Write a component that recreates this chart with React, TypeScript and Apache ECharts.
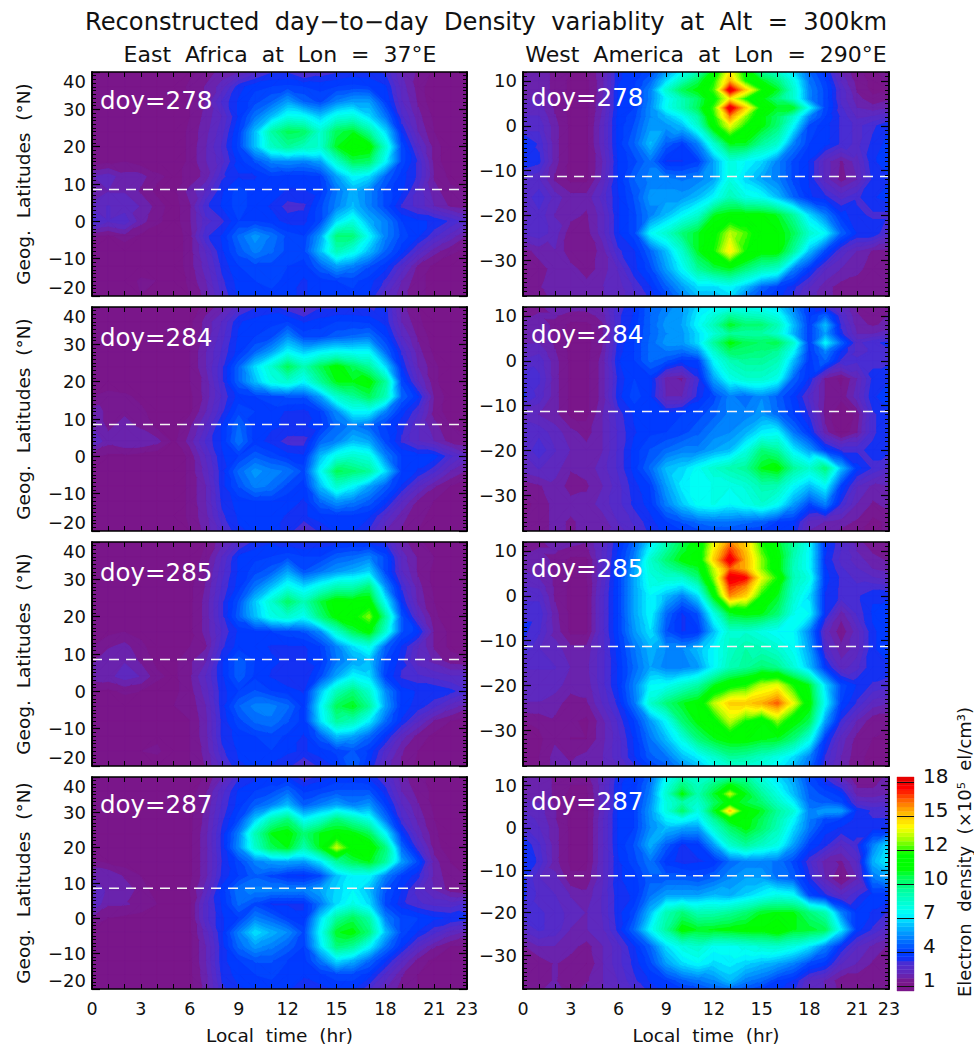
import React, { useEffect, useRef } from "react";
import * as echarts from "echarts";

const TITLE = "Reconstructed  day\u2212to\u2212day  Density  variablity  at  Alt  =  300km";
const SUB_EAST = "East  Africa  at  Lon  =  37\u00b0E";
const SUB_WEST = "West  America  at  Lon  =  290\u00b0E";
const DOYS = ["278", "284", "285", "287"];
const HOURS = [0,1,2,3,4,5,6,7,8,9,10,11,12,13,14,15,16,17,18,19,20,21,22,23];
const HOUR_LABELS = [0,3,6,9,12,15,18,21,23];
const LATS_E = [40,36,32,28,24,20,16,12,8,4,0,-4,-8,-12,-16,-20];
const LATS_W = [12,10,8,6,4,2,0,-4,-8,-12,-16,-20,-24,-28,-32,-36,-38];
const TICKS_E = [-20,-10,0,10,20,30,40];
const TICKS_W = [-30,-20,-10,0,10];
const DIP_E = 8.5;
const DIP_W = -11.3;
const BAR_TICKS = [1,3.83,6.67,9.5,12.33,15.17,18];

const E278 = [
[1,1,1,1,1,1,1.2,1.5,1.8,2,2.5,3,3,2.5,2.8,3,3.2,3.2,3,2,1.6,1.2,1,1],
[1,1,1.1,1.2,1.1,1,1.4,1.7,2.2,3.3,3.7,3.8,3.9,3.8,3.7,3.8,3.9,3.8,3.5,2.2,1.5,1,1,1],
[1,1,1,1,1,1,1.3,1.7,2.8,3.5,4,4.5,5.5,4.5,4,5,5.5,5.5,3.8,2.4,1.6,1,1,1],
[1,1,1,1,1,1,1.3,1.8,2.4,3.5,4.8,6,7.4,7.2,6.2,7.5,7.8,6.5,4.8,2.8,1.8,1.2,1,1],
[1,1,1,1,1,1,1.4,1.9,2.6,3.8,6,8.8,10,9.8,8,10,10.5,9,6.5,3.4,2,1.3,1,1],
[1,1,1,1,1,1,1.4,2,2.8,3.9,6,8.2,9,8.4,8,10.5,11.5,11.2,8,4,2.5,1.5,1,1],
[1.1,1.2,1.3,1.1,1,1,1.4,2,2.6,3.6,4.2,5,5.2,5,5.5,8,10,9.8,7,4,3,1.5,1,1],
[2,2.2,1.8,1.8,1.4,1.2,1.4,1.8,3,3.4,3.4,3.8,3.6,3.6,3.8,5.5,7,6.5,4.5,3.6,3,1.6,1.2,1.1],
[1.6,2,2,1.6,1.2,1.2,1.8,2.4,3.4,4,3.6,3.6,3.4,3.4,3.6,4.8,5.8,5,4,3.5,2.6,1.8,1.4,1.3],
[2.2,2.4,2.2,2,1.5,1.1,1.6,3,3.5,4,3.6,3.4,2.9,3,4,5,6,5,4,3,2.6,2,1.6,1.5],
[3,2.4,2.6,1.8,1.4,1.1,1.6,2.6,3,3.8,3.8,3.6,3.3,3.3,4,6.5,7.6,5.8,5,3.8,3.5,3.4,3,2.5],
[1.4,1.2,1.5,1.2,1,1,1.5,3,3.5,4.6,5.4,4.8,4,3.8,5.5,9.5,9.5,7,5,4,3.5,2.8,2.2,1.6],
[1,1,1,1,1,1,1.5,2.4,3.4,4.3,5,4.6,4,4,6,8.5,7.5,6,4.5,3.6,2.6,1.8,1.4,1.2],
[1,1,1,1,1,1,1.5,2.2,3.2,3.8,4,4,3.8,3.6,4.5,5.5,5,4.2,3.6,2.6,1.6,1.2,1,1],
[1,1,1,1.4,1.3,1,1.4,2,3,3.6,3.8,4,3.6,3.4,3.6,3.8,3.9,3.6,3,2,1.4,1.2,1,1],
[1,1,1,1.3,1.1,1,1.3,1.8,2.8,3.5,3.6,3.6,3.5,3.4,3.6,3.8,3.7,3.4,2.4,1.8,1.4,1.2,1,1],
];
const E284 = [
[1,1,1,1,1,1,1,1.5,1.8,2.6,3,3.2,2.8,2.4,3,3,3,3,3.2,1.8,1.3,1,1,1],
[1,1,1,1,1,1,1.2,1.8,2.4,3.4,3.6,3.7,3.8,3.4,3.6,3.8,3.8,3.7,3.3,2,1.4,1,1,1],
[1,1,1,1,1,1,1.2,1.8,2.6,3.5,3.8,4,5.2,4,4,4.4,4.6,4.8,3.8,2.4,1.6,1.1,1,1],
[1,1,1,1,1,1,1.3,2,2.8,3.6,4.5,5.5,7,6.2,6.8,7.2,7,7,4.6,3,1.8,1.2,1,1],
[1,1,1,1,1,1,1.3,2,3,4.5,6.5,8,10,8.5,10,11,10,9,6.5,3.4,2,1.4,1,1],
[1,1,1,1,1,1,1.3,1.8,3,4.5,6,7.5,8,7,9,10.6,10.6,11,9,4,2.4,1.4,1,1],
[1.3,1.5,1.4,1.2,1,1,1.2,1.8,2.8,3.6,3.8,4,4.2,4.2,5.5,8,9,10,8.5,4.5,3.5,1.6,1.1,1],
[1.8,1.6,1.6,1.4,1.1,1,1.2,2,3,4,3.8,3.6,3.4,3.3,3.8,5.2,7,7,5,3.6,2.8,1.5,1.1,1],
[2,1.6,1.8,1.6,1.2,1.1,1.6,2.4,3.5,4.6,3.6,3.5,3.4,3.4,3.6,4.6,5,4.5,3.8,3.2,2.4,1.8,1.3,1.2],
[2.4,1.8,2,2,1.8,1.2,1.8,2.8,3.5,4.8,3.6,3.3,2.9,2.9,4.5,5,6,5.6,4,3,2.4,2,1.5,1.4],
[1.4,1.2,1.2,1.1,1,1,1.4,2.4,3.4,3.8,4.4,4,3.6,3.5,6,7.5,8,7.6,5,3.8,3.6,3.6,2.8,2.2],
[1,1,1,1,1.3,1,1.4,2.2,3.3,4.6,5.4,5,4.8,4,7,10,9.6,9,6.5,3.8,3.4,2.8,2,1.6],
[1,1,1,1,1.1,1,1.4,2,3.3,4.2,5,4.8,4,3.6,6,8,7,5.6,4.4,3.4,2.4,1.7,1.3,1],
[1,1,1,1,1.2,1,1.4,2,3.2,3.6,3.8,3.8,3.6,3.4,4.6,5.4,5,4.4,3.6,2.4,1.6,1.3,1,1],
[1,1,1,1,1.3,1,1.4,1.9,3,3.5,3.6,3.6,3.4,3.4,3.6,3.7,3.7,3.5,2.6,1.8,1.4,1.2,1,1],
[1,1,1,1,1,1,1.3,1.8,2.6,3.4,3.5,3.5,3.4,2.4,3.2,3.5,3.5,3,2,1.6,1.3,1.1,1,1],
];
const E285 = [
[1,1,1,1,1,1,1.1,1.3,1.9,2.6,3.2,3.4,3.2,3,3.2,3.3,3.4,3.3,3,1.8,1.4,1.1,1,1],
[1,1,1,1,1,1,1.1,1.4,2.4,3.5,3.7,3.8,4,3.8,3.8,4.4,4.6,5,4,2.2,1.6,1.3,1,1],
[1,1,1,1,1,1,1.2,1.6,2.6,3.5,4,4.4,5.6,4.2,4.8,5.4,5.8,6.4,4,2.4,1.6,1.2,1,1],
[1,1,1,1,1,1,1.2,1.7,2.8,3.6,4.8,6,7.4,6.5,7.5,8.5,8.5,9.5,5.2,3,1.8,1.2,1,1],
[1,1,1,1,1,1,1.2,1.8,3,4.2,6.2,8,9.8,8.5,10.2,11.2,11,11.2,7,3.4,1.9,1.3,1,1],
[1,1,1,1,1,1,1.2,1.8,3,4.4,6,7.5,8,7.2,9.5,11,11.5,13,9,4.2,2.4,1.4,1,1],
[1.1,1.2,1.3,1.2,1,1,1.2,1.8,2.8,3.5,3.7,3.8,4,4.2,5.2,8,10,11,8,4.2,3.6,1.6,1.2,1],
[1.3,1.6,1.8,1.4,1.1,1.1,1.3,1.6,3,3.6,3.6,3.4,3.4,3.4,3.8,5,6.5,7.5,4.5,3.4,2.4,1.6,1.2,1.1],
[1.6,2,2,1.6,1.2,1.2,1.6,2,3.4,4.4,3.8,3.5,3.4,3.4,3.6,4.8,5.6,6,4,3.2,2.2,1.9,1.5,1.4],
[1.8,1.9,2.2,2,1.4,1.2,1.6,2.4,3.4,4.4,3.7,3.4,3.1,3.1,4,5.6,7,6.5,3.8,3,2.8,2.6,2.4,2.4],
[1.3,1.2,1.4,1.3,1.1,1.2,1.5,2.2,3.3,3.8,4.2,3.8,3.6,3.4,6,8.4,9.5,8,5.2,3.6,3.4,3.4,3.2,2.8],
[1,1,1,1,1,1.3,1.4,2,3.3,4.5,5,5,4.6,3.6,6.8,10,10.6,9,5.5,3.6,3.3,2.8,2.2,1.8],
[1,1,1,1,1,1.1,1.3,1.9,3.2,4,4.6,4.8,4.2,3.6,6.5,9,8.5,6.8,4.6,3.4,2.4,1.6,1.3,1.1],
[1,1,1,1,1.2,1,1.3,1.9,3.2,3.6,3.8,4,3.7,3.4,4.4,6,5.6,4.6,3.5,2.2,1.5,1.2,1,1],
[1,1,1,1.3,1.4,1,1.3,1.8,3,3.5,3.7,3.8,3.5,3.4,3.6,3.9,4.2,3.7,2.6,1.7,1.3,1.1,1,1],
[1,1,1,1,1,1,1.3,1.7,2.6,3.4,3.5,3.4,3.2,2.6,3.2,3.5,4.5,3.4,2.2,1.6,1.2,1.1,1,1],
];
const E287 = [
[1,1,1,1,1,1,1.1,1.4,2,3,3.3,3.5,3.4,2.8,3.2,3.5,3.5,3.3,2.8,1.8,1.4,1.2,1,1],
[1,1,1,1,1,1,1.1,1.6,2.6,3.5,3.8,4,4.6,3.7,3.9,4.2,4.2,4.2,3.2,2,1.5,1.2,1,1],
[1,1,1,1,1,1,1.2,1.7,2.8,3.6,4.4,5,6,4.4,5,5.6,5,5.4,3.8,2.4,1.7,1.2,1,1],
[1,1,1,1,1,1,1.2,1.8,3,4,6.2,8.5,9.5,7,8,9.5,8.6,7.5,4.8,2.8,1.9,1.3,1,1],
[1,1,1,1,1,1,1.2,1.9,3.2,5,8.5,10.6,11,9.6,10.6,11,10.8,10,7,3.6,2.2,1.4,1,1],
[1,1,1,1,1,1,1.2,1.9,3.2,5.2,8,10,10.6,8.6,10.6,13.6,11.4,11.4,9.5,4.6,2.8,1.5,1,1],
[1.4,1.2,1.1,1,1,1,1.2,1.9,3.1,4,5,5.4,5.6,5.4,6.6,9,10,10.6,9,5.5,4,1.8,1.3,1],
[2,2,1.6,1.3,1.1,1,1.2,1.9,3.2,3.8,4.4,4,3.5,3.4,4,6,7,7,5,3.8,3.2,1.9,1.4,1.3],
[2.4,1.9,1.9,1.5,1.1,1,1.3,2.2,3.6,4.8,5,5,5,5,5.6,6.4,7,6,4.2,3.4,2.6,2,1.5,1.4],
[2.4,1.7,1.7,1.6,1.3,1,1.2,2.6,3.5,4.6,4,3.4,3.4,3.4,4.8,6.5,7.5,6.5,4,3.2,2.8,2.6,2.5,2.8],
[1.6,1.3,1.2,1.1,1.3,1.1,1.2,2.6,3.4,3.8,5,4.5,3.8,3.5,6.4,9,10,8.8,5,4,3.8,3.5,3.4,3.2],
[1,1,1,1,1,1,1.2,2.2,3.4,5,6.6,5.8,5.2,4,7,10.5,10.8,9.5,6,4,3.4,2.8,2.2,1.9],
[1,1,1,1,1,1,1.2,2,3.3,4.6,5.4,5,4.4,3.8,6.5,9.5,9,7,4.8,3.5,2.4,1.7,1.3,1.2],
[1,1,1,1,1,1,1.2,2,3.3,3.8,4.2,4.2,3.8,3.6,4.8,6.5,5.8,4.6,3.5,2.4,1.5,1.2,1,1],
[1,1,1,1,1,1,1.2,1.9,3.2,3.6,3.8,3.9,3.6,3.5,3.7,4,4,3.6,2.6,1.7,1.3,1.2,1,1],
[1,1,1,1,1,1,1.2,1.8,3,3.4,3.5,3.6,3.5,3.2,3.3,3.5,3.5,2.8,2,1.5,1.3,1.1,1,1],
];
const W278 = [
[1.6,1.8,1.6,1.3,1.3,1.9,3.4,3.6,4,5.5,7,8.5,11,14.5,11.5,9,8,6.5,4.5,3.5,2,1.4,1.2,1.6],
[1.7,1.8,1.6,1.2,1.2,1.9,3.4,3.7,4.5,6.5,8.5,10,12,15.5,12,10.6,9.5,7.5,4.8,3.8,2.3,1.5,1.2,1.4],
[1.8,1.8,1.6,1.2,1.2,1.9,3.5,3.8,5,8,10,10.8,12.5,18.2,15,12,10.5,8,5,4,2.6,1.6,1.2,1.3],
[2,2,1.6,1.2,1.2,2,3.5,3.8,5,7,8.5,9.8,11.5,14.5,12,10.8,9.5,8,5,4,2.6,1.8,1.4,1.6],
[2.2,2.2,1.6,1.2,1.2,2,3.5,3.8,5.2,7.2,8.5,10,12.5,18.2,15,11.5,10.5,10.5,7,4,2.8,2,1.8,2],
[2.4,2.4,1.7,1.2,1.2,2.1,3.6,4,5.2,6,7,8.8,12,16,13,10.8,9.8,8,5,3.8,3,2.3,2.4,2.7],
[2.6,2.6,1.8,1.2,1.2,2.2,3.6,4.2,5.4,5.4,6,8,11.5,14,12,10.8,9.6,7,4,3.6,3,2.6,3,3.4],
[3.6,3,1.8,1.2,1.2,2.2,3.6,4.5,6,4.4,3.8,5,8,10.6,10.5,9,8,5,3.8,3.6,3,2.6,3.2,3.6],
[3.4,3.2,1.8,1.2,1.2,2,3.5,4,4.8,3.4,3.4,3.8,5.6,7.6,7,6.4,5,4,3.4,2.2,1.6,2.2,3.4,3.6],
[2.6,2.4,1.6,1.2,1.2,2.1,3.5,4.5,5,5,4.8,5,5.6,7.6,6.4,5.6,5,4,3.4,2.2,1.5,2,3.2,3.4],
[2.4,3,2.2,1.8,1.8,2.5,3.4,4.2,5.4,5.4,5.4,6,7,8.5,7.5,7.2,6,4.5,3.5,3.2,2.6,3,3.4,3.6],
[2.2,2.6,2,1.8,1.6,2.2,3.4,4,5,6,7,8,10.5,11,11,11,10.5,9,6.5,5,3.6,3.2,3,3],
[2.4,2.6,2.2,1.4,1.5,2.2,3.4,4,7,8,9.5,10.5,11.5,13.5,12.5,11,11,10,8,7,4.5,3.4,3.4,2.6],
[1.5,1.8,2,1.4,1.4,1.8,3,3.4,4.5,6,8,10.5,12,14.5,12,11,11,9,6,4,2.6,2,1.6,1.5],
[1.2,1.5,1.8,1.8,1.5,1.8,2.4,3.3,4,5.5,7,9,10,10.5,9.5,8.5,8,5,3.6,2.4,2,1.8,1.4,1.3],
[1.3,1.6,2,1.8,1.8,2,2.2,2.8,3.4,4.4,5.5,6.5,6.5,7,6,4.5,3.8,3.2,2.4,1.8,1.5,1.4,1.5,1.5],
[1.3,1.5,1.8,1.8,1.8,2,2.2,2.6,3.2,4,5,6,6,6.5,5,4,3.6,3,2.2,1.8,1.5,1.4,1.5,1.5],
];
const W284 = [
[1.4,1.6,1.8,1.8,1.8,2,2.9,3.4,4.5,5,5.5,6.5,7,7.2,7.2,7,6.5,5,3.6,3,2.4,1.6,1.4,1.6],
[1.6,1.7,1.7,1.5,1.5,1.8,3,3.5,4.5,5.2,5.5,6.8,7.8,9,8.4,8.2,7.5,5.5,3.7,4.5,2.7,1.7,1.5,1.7],
[1.8,1.8,1.6,1.2,1.2,1.6,3,3.6,4.5,5.4,5.6,7,8.5,10.5,9.6,9.6,8.5,6,3.8,6,3,1.8,1.6,1.8],
[1.9,1.9,1.6,1.2,1.2,1.6,3.1,3.7,4.5,5.2,5.4,6.5,7.8,9,8.8,8.8,8,5.8,3.8,5.5,3.2,2,2,2.2],
[2,2,1.6,1.2,1.2,1.6,3.2,3.8,4.6,5.4,5.4,6.5,9,10.8,10,9.8,10,8,3.8,7,4.5,2.6,3,3.2],
[2.2,2.3,1.7,1.2,1.2,1.7,3.3,3.8,4.6,4.8,4.6,5.2,8,9.8,9.6,9.4,9,7,3.7,5,3.4,2.6,2.8,3],
[2.4,2.6,1.8,1.2,1.2,1.8,3.4,3.8,4.6,4.2,3.6,3.8,7,8.5,9,9,8.5,6,3.6,4.5,3,2.8,3,3],
[3,2.8,1.8,1.2,1.2,1.8,3.2,3.8,3.6,1.8,1.6,3,5.6,7.4,8,8,7.4,4.5,3.4,1.6,1.2,2,3.2,3.4],
[3.2,2.6,1.8,1.2,1.2,1.8,3.3,4,3.5,2,2,3.2,4,5,4.6,5.2,4.4,3.6,2.6,1.6,1.4,2.2,3.4,3.6],
[2.2,2,1.8,1.2,1.2,2,2.9,3.5,3.7,3.6,3.8,4,4.4,5,5,5.4,4.6,3.8,3,1.5,1,1.4,3,3.4],
[2.6,2.6,2.2,1.8,1.5,2,2.8,3.4,3.7,3.8,4,4.4,5,5.2,5.8,6.8,7,4.8,3.6,1.8,1,1.6,3,3.4],
[2.4,3,2.4,2,1.8,2,2.8,3.6,4.2,4.6,5,5,5.6,6,7.5,9.5,9,6.8,5.5,3.8,3,3,3.2,3.2],
[2.2,2.4,2.2,1.7,1.8,2.2,2.8,3.6,4.6,6,6.4,7.2,8,8.6,9,10.6,11,9,8,9.5,6,3.6,3,2.6],
[1.4,1.6,1.9,1.5,1.6,2,2.6,3.3,3.8,5.5,6.8,7.2,7.4,7.4,7.8,8.6,8.5,7,6,7,3.8,2.4,1.9,2],
[1.2,1.4,1.8,1.8,1.8,2.2,2.6,3.2,3.6,5,6.2,7.2,7.4,7,7.4,8,7.2,5.5,4,5,3,2,1.6,1.8],
[1.3,1.4,1.8,1.6,1.8,1.8,2.4,2.8,3.3,3.8,4.2,4.6,4.8,4.8,4.6,4.4,3.8,3.6,2.2,2,1.8,1.6,1.2,1.4],
[1.3,1.4,1.8,1.6,1.8,1.9,2.2,2.6,3.2,3.6,3.8,4,4.2,4.2,4,3.8,3.5,3.4,2,1.8,1.6,1.4,1.2,1.4],
];
const W285 = [
[1.5,1.6,1.8,1.8,1.7,2.4,3.4,4.5,6.5,8.5,10,11,14,16,15,12,10.5,9,7,3.5,2.8,1.8,1.4,1.6],
[1.6,1.7,1.7,1.5,1.5,2.4,3.5,4.8,7.2,9,10.4,11,14.5,17,15.2,12.5,10.8,8.8,7,3.5,2.7,2,1.6,1.6],
[1.8,1.8,1.6,1.2,1.2,2.4,3.6,5,8,9.6,10.8,11,15,18,15.5,13,11,8.5,7,3.4,2.6,2.2,1.8,1.6],
[2,1.9,1.6,1.2,1.2,2.4,3.7,5.5,7.8,8.8,9.6,10.4,13.5,16.5,15.5,13,11,8.4,7,3.5,2.8,2.4,2,1.9],
[2.2,2,1.6,1.3,1.3,2.4,3.8,5.6,7.6,8,8,9.5,13,18,17.5,14,12,8.5,7.5,3.6,3,2.6,2.4,2.2],
[2.4,2.3,1.6,1.2,1.2,2.5,3.8,5.6,7.4,7,6.5,8,12,17,16,13,11,8.2,7,3.5,3,2.8,2.9,2.8],
[2.6,2.6,1.6,1.2,1.2,2.6,3.8,5.6,7,6,5,6.5,11,16,15,12,10.5,8,6.5,3.4,3,3,3.4,3.4],
[3,3,1.8,1.2,1.2,2.6,3.8,5.6,7,4.6,3.4,4.2,7.5,10.5,10.8,10.6,9.6,7.4,7,3.4,1.8,2.8,3.5,3.6],
[3.2,2.8,1.9,1.2,1.2,2.6,3.8,5.4,6.6,4.2,3.4,3.6,6,8,8,7.5,7,7,5,2.2,1.4,2.2,3.4,3.6],
[3,2.4,2.2,1.8,1.8,2.6,3.6,4.8,5.8,5.2,5.2,6,7,8.2,8.8,8.5,8,7.2,5.5,2.6,1.8,2.2,3.4,3.6],
[2.4,2.4,2.4,2,1.9,2.6,3.5,4.6,5.6,5,5,5.4,7,8.5,9,9.6,9.2,7.8,6,3.6,2.2,2.6,3.4,3.4],
[2.2,2.2,2.2,1.8,1.8,2.6,3.5,5,7,7.2,8,8.8,10.5,11.5,12,13.5,14,12,10.5,6.5,4,3.4,3,2.8],
[2,2,1.8,1.5,1.6,2.4,3.2,4.8,8,9.5,10.5,11,13.5,15,15,15.5,16.5,14,11,7,3.8,3,2.2,2],
[1.3,1.4,1.6,1.4,1.2,1.9,2.8,3.8,5.4,7,9.6,10.8,11.5,13.5,12,11,13,11,10,5.5,3,2,1.4,1.4],
[1.1,1.2,1.6,1.3,1.3,1.9,2.6,3.5,4.8,6,7.5,9.5,10.5,11,11,10.6,10.5,9.5,7.5,3.6,2.2,1.5,1.3,1.2],
[1.2,1.3,1.8,1.6,1.8,2,2.6,3.4,4.4,4.8,6,6.8,8,9,8.8,8.2,7.5,6.5,5,3,2,1.4,1.2,1.3],
[1.2,1.3,1.8,1.7,1.8,2,2.4,3,3.8,4.4,5.2,6,7.2,8,8,7.6,7,6,4.6,2.8,1.9,1.4,1.2,1.3],
];
const W287 = [
[1.8,1.9,1.6,1.4,1.5,2.2,3.3,3.6,4.5,7,8.5,8,8.5,9,9,7.6,6.5,5.5,4,3,2,1.4,1.4,1.8],
[1.85,1.9,1.6,1.3,1.3,2.2,3.4,3.6,4.8,7.5,9.5,8.3,9.5,10.8,9.8,8.3,7,5.8,4.2,3.5,2.8,1.6,1.6,1.9],
[1.9,1.9,1.6,1.2,1.2,2.2,3.4,3.6,5,8,10.8,8.6,10.4,13.5,10.6,9,7.6,6,4.4,4,3.6,1.8,1.8,2],
[2.1,2,1.6,1.2,1.2,2.2,3.4,3.7,5.2,7.6,8.8,8,9.8,11,10.2,9.6,8.2,6.8,4.6,4.4,4,2.5,2.3,2.4],
[2.4,2.2,1.7,1.2,1.2,2.2,3.5,3.8,5.4,7.6,9.8,7.5,10.5,15,11,10.5,9,7.8,5,5.5,5.5,3.4,3,3],
[2.6,2.3,1.7,1.2,1.2,2.3,3.5,3.8,5.3,6.8,7.2,6.6,9,11,10.9,10,8.7,7,4.9,4,3.8,3.3,3.1,3.1],
[2.8,2.4,1.8,1.2,1.2,2.3,3.5,3.8,5.2,6,5.6,5.5,8,9.8,10.8,9.8,8.5,6.5,4.8,3.6,3.4,3.2,3.2,3.2],
[3.4,2.8,1.8,1.2,1.2,2.3,3.5,4.2,5.8,4.4,3.4,3.6,5.5,8,9,8.2,7.5,5.5,3.8,3.2,2.4,3,5,6.5],
[3.5,3,1.8,1.2,1.2,2.3,3.4,4,4.8,3.6,3.3,3.4,3.5,4.6,5,5,4.8,4,2.8,1.8,1.6,2.4,5.8,7],
[3.2,2.4,2.2,1.4,1.4,2.3,3.4,3.6,4.4,4.4,4.4,4.2,4.6,5.2,5.6,5.6,4.8,4.4,3.2,2,1.2,2,4.8,5.5],
[3.2,2.6,2.4,2,1.8,2.4,3.3,3.5,4.8,5.6,5.6,5.6,6,5.8,6.4,7,7.5,7.2,4,3.2,2.4,3,3.6,3.6],
[3,2.8,2.6,2.2,2,2.4,3.3,4,6,8.5,9.5,8.5,8.6,9,9.6,10.5,10.6,10.6,9.5,8.6,5,3.6,3.4,3],
[2.4,2.8,2.6,2,2,2.3,3.2,4.6,7,9,11,10.5,10.6,10.8,11,11,11.5,10.6,10.4,10,6.8,3.6,3,2.4],
[1.6,2,2,1.8,1.5,2,2.6,3.4,4.5,6.5,7.6,8,7.2,7.2,7.5,7.8,8,7.5,6.6,5,3.4,2.4,1.9,1.6],
[1.3,1.4,1.7,1.5,1.3,2,2.6,3.2,4,5.5,6.5,7,6.5,6.8,6.4,6,5.6,5,4,3.6,2.4,2,1.6,1.6],
[1.5,1.5,1.7,1.4,1.6,2,2.4,3,3.5,3.8,4.4,4.8,5.2,6,5,4.6,3.8,3.4,2.4,2,1.4,1.4,1.3,1.6],
[1.6,1.6,1.8,1.5,1.8,2,2.3,2.8,3.2,3.6,3.8,4,4.5,4.8,4.2,3.8,3.5,3.2,2.2,2,1.5,1.4,1.4,1.6],
];

const EAST = [E278, E284, E285, E287];
const WEST = [W278, W284, W285, W287];

const V_MIN = 0.6;
const V_MAX = 18.4;
const N_BANDS = 50;
const PURPLE = "rgb(122,22,138)";
const STOPS: [number, number, number, number][] = [
  [0.6, 122, 22, 138], [1.4, 122, 22, 138], [2, 100, 40, 185], [2.9, 75, 45, 210], [3.4, 0, 50, 255],
  [4, 0, 70, 255], [5.2, 0, 140, 255], [6.2, 0, 200, 255], [7, 0, 255, 255], [8.7, 0, 255, 175],
  [10, 0, 255, 90], [10.8, 0, 255, 0], [12, 0, 255, 0], [13.2, 160, 255, 0], [14.2, 255, 255, 0],
  [15.5, 255, 180, 0], [16.5, 255, 96, 0], [17.5, 255, 0, 0], [18.4, 225, 0, 0],
];
function colorOf(v: number) {
  for (let i = 1; i < STOPS.length; i++) {
    if (v <= STOPS[i][0]) {
      const a = STOPS[i - 1], b = STOPS[i];
      const t = Math.max(0, (v - a[0]) / (b[0] - a[0]));
      return `rgb(${Math.round(a[1] + (b[1] - a[1]) * t)},${Math.round(a[2] + (b[2] - a[2]) * t)},${Math.round(a[3] + (b[3] - a[3]) * t)})`;
    }
  }
  return "rgb(225,0,0)";
}
const STEP = (V_MAX - V_MIN) / N_BANDS;
const BANDS = Array.from({ length: N_BANDS }, (_, i) => {
  const lo = V_MIN + i * STEP;
  return { lo, hi: lo + STEP, color: colorOf(lo + STEP / 2) };
});

type P = [number, number, number];
function clip(poly: P[], level: number, above: boolean): P[] {
  const out: P[] = [];
  for (let i = 0; i < poly.length; i++) {
    const a = poly[i], b = poly[(i + 1) % poly.length];
    const ia = above ? a[2] >= level : a[2] <= level;
    const ib = above ? b[2] >= level : b[2] <= level;
    if (ia) out.push(a);
    if (ia !== ib) {
      const t = (level - a[2]) / (b[2] - a[2]);
      out.push([a[0] + (b[0] - a[0]) * t, a[1] + (b[1] - a[1]) * t, level]);
    }
  }
  return out;
}
function bandPolys(poly: P[], children: any[]) {
  let mn = Infinity, mx = -Infinity;
  for (const p of poly) { mn = Math.min(mn, p[2]); mx = Math.max(mx, p[2]); }
  for (const b of BANDS) {
    if (b.hi < mn || b.lo > mx) continue;
    let c = clip(poly, b.lo, true);
    if (c.length >= 3) c = clip(c, b.hi, false);
    if (c.length < 3) continue;
    children.push({
      type: "polygon", silent: true,
      shape: { points: c.map((p) => [p[0], p[1]]) },
      style: { fill: b.color, stroke: b.color, lineWidth: 1 },
    });
  }
}
function renderCell(_: any, api: any) {
  const h0 = api.value(0), h1 = api.value(1), la0 = api.value(2), la1 = api.value(3);
  const v00 = api.value(4), v10 = api.value(5), v01 = api.value(6), v11 = api.value(7);
  const a0 = api.coord([h0, la0]), a1 = api.coord([h1, la0]), a2 = api.coord([h1, la1]), a3 = api.coord([h0, la1]);
  const A: P = [a0[0], a0[1], v00], B: P = [a1[0], a1[1], v10], C: P = [a2[0], a2[1], v11], D: P = [a3[0], a3[1], v01];
  const children: any[] = [];
  const mn = Math.min(v00, v10, v01, v11), mx = Math.max(v00, v10, v01, v11);
  if (Math.floor((mn - V_MIN) / STEP) === Math.floor((mx - V_MIN) / STEP)) {
    bandPolys([A, B, C, D], children);
  } else if (Math.abs(v00 - v11) < Math.abs(v10 - v01)) {
    bandPolys([A, B, C], children);
    bandPolys([A, C, D], children);
  } else {
    bandPolys([A, B, D], children);
    bandPolys([B, C, D], children);
  }
  return { type: "group", children };
}
function cells(lats: number[], rows: number[][]) {
  const out: number[][] = [];
  for (let j = 0; j + 1 < lats.length; j++)
    for (let i = 0; i + 1 < HOURS.length; i++)
      out.push([HOURS[i], HOURS[i + 1], lats[j], lats[j + 1], rows[j][i], rows[j][i + 1], rows[j + 1][i], rows[j + 1][i + 1]]);
  return out;
}
const range = (a: number, b: number) => { const r: number[] = []; for (let v = a; v <= b; v++) r.push(v); return r; };

const FONT = "DejaVu Sans";
const LINE = { show: true, onZero: false, lineStyle: { color: "#000", width: 1.6 } };
const ROW_TOPS = [72, 307, 542, 777];
const ROW_H = [224, 224, 224, 213];
const COL_X = [92, 523];
const COL_W = [375, 366];

function buildOption() {
  const grid: any[] = [], xAxis: any[] = [], yAxis: any[] = [], series: any[] = [], graphic: any[] = [];
  const DOY_DY = [[28, 25], [30, 27], [30, 26], [27, 24]];
  for (let r = 0; r < 4; r++) {
    for (let c = 0; c < 2; c++) {
      const g = grid.length;
      grid.push({ show: true, borderWidth: 0, backgroundColor: PURPLE, left: COL_X[c], top: ROW_TOPS[r], width: COL_W[c], height: ROW_H[r] });
      const isE = c === 0;
      const min = isE ? -20 : -38, max = isE ? 40 : 12;
      const ticks = isE ? TICKS_E : TICKS_W;
      const xIdx = xAxis.length, yIdx = yAxis.length;
      const bottom = r === 3;
      const xBase = { type: "value", gridIndex: g, min: 0, max: 23, interval: 1, splitLine: { show: false }, axisLine: LINE, z: 5,
        axisTick: { show: true, inside: true, length: 5, lineStyle: { color: "#000", width: 1 } } };
      xAxis.push({ ...xBase, position: "bottom", name: bottom ? "Local  time  (hr)" : "", nameLocation: "middle", nameGap: 37,
        nameTextStyle: { fontFamily: FONT, fontSize: 18.5, color: "#111" },
        axisLabel: bottom ? { show: true, customValues: HOUR_LABELS, margin: 11, fontFamily: FONT, fontSize: 17.5, color: "#111" } : { show: false } });
      xAxis.push({ ...xBase, position: "top", axisLabel: { show: false } });
      const yBase = { type: "value", gridIndex: g, min, max, splitLine: { show: false }, axisLine: LINE, z: 5 };
      const fine = range(min, max);
      yAxis.push({ ...yBase, position: "left", name: isE ? "Geog.  Latitudes  (\u00b0N)" : "", nameLocation: "middle", nameGap: 59,
        nameTextStyle: { fontFamily: FONT, fontSize: 18.5, color: "#111" },
        axisTick: { show: true, inside: true, length: 8, customValues: ticks, lineStyle: { color: "#000", width: 1.2 } },
        axisLabel: { show: true, customValues: ticks, margin: 6, fontFamily: FONT, fontSize: 18, color: "#111",
          verticalAlignMaxLabel: isE ? "top" : undefined, verticalAlignMinLabel: isE ? "bottom" : undefined,
          formatter: (v: number) => String(v).replace("-", "\u2212") } });
      yAxis.push({ ...yBase, position: "left", axisLabel: { show: false },
        axisTick: { show: true, inside: true, length: 4, customValues: fine, lineStyle: { color: "#000", width: 1 } } });
      yAxis.push({ ...yBase, position: "right", axisLabel: { show: false },
        axisTick: { show: true, inside: true, length: 8, customValues: ticks, lineStyle: { color: "#000", width: 1.2 } } });
      yAxis.push({ ...yBase, position: "right", axisLabel: { show: false },
        axisTick: { show: true, inside: true, length: 4, customValues: fine, lineStyle: { color: "#000", width: 1 } } });
      series.push({ type: "custom", xAxisIndex: xIdx, yAxisIndex: yIdx, clip: true, silent: true, z: 2,
        renderItem: renderCell, encode: { x: [0, 1], y: [2, 3] }, data: cells(isE ? LATS_E : LATS_W, (isE ? EAST : WEST)[r]) });
      const lat = isE ? DIP_E : DIP_W;
      series.push({ type: "line", xAxisIndex: xIdx, yAxisIndex: yIdx, silent: true, z: 4, symbol: "none",
        lineStyle: { color: "#f4f4f4", width: 1.5, type: [10, 7] }, data: [[HOURS[0], lat], [HOURS[23], lat]] });
      graphic.push({ type: "text", z: 20, x: COL_X[c] + 8, y: ROW_TOPS[r] + DOY_DY[r][c],
        style: { text: "doy=" + DOYS[r], fontFamily: FONT, fontSize: 24.5, fill: "#fff", verticalAlign: "middle" } });
    }
  }
  // colour bar
  const gb = grid.length;
  grid.push({ left: 897, top: 777, width: 17, height: 214 });
  const xb = xAxis.length, yb = yAxis.length;
  xAxis.push({ type: "value", gridIndex: gb, min: 0, max: 1, show: false });
  yAxis.push({ type: "value", gridIndex: gb, min: V_MIN, max: V_MAX, position: "right", splitLine: { show: false }, z: 5,
    axisLine: { show: false, onZero: false },
    axisTick: { show: true, inside: true, length: 17, customValues: BAR_TICKS, lineStyle: { color: "#111", width: 1 } },
    axisLabel: { show: true, customValues: BAR_TICKS, margin: 9, fontFamily: FONT, fontSize: 20, color: "#111", verticalAlign: "bottom", lineHeight: 12,
      formatter: (v: number) => String(Math.round(v)) } });
  series.push({ type: "custom", xAxisIndex: xb, yAxisIndex: yb, silent: true, z: 2, encode: { y: [0, 1] },
    renderItem: (_: any, api: any) => {
      const lo = api.value(0), hi = api.value(1);
      const a = api.coord([0, hi]), b = api.coord([1, lo]);
      const fill = colorOf((lo + hi) / 2);
      return { type: "rect", shape: { x: a[0], y: a[1], width: b[0] - a[0], height: b[1] - a[1] }, style: { fill, stroke: fill, lineWidth: 0.4 } };
    },
    data: BANDS.map((b) => [b.lo, b.hi]) });
  graphic.push({ type: "text", z: 20, x: 964, y: 852, rotation: Math.PI / 2,
    style: { text: "Electron  density  (\u00d710\u2075  el/cm\u00b3)", fontFamily: FONT, fontSize: 18, fill: "#111", align: "center", verticalAlign: "middle" } });
  return {
    animation: false, backgroundColor: "#fff",
    title: [
      { text: TITLE, left: 481, top: 5, textAlign: "center", textStyle: { fontFamily: FONT, fontSize: 24.2, fontWeight: "normal", color: "#111" } },
      { text: SUB_EAST, left: 275, top: 38, textAlign: "center", textStyle: { fontFamily: FONT, fontSize: 22, fontWeight: "normal", color: "#111" } },
      { text: SUB_WEST, left: 701, top: 38, textAlign: "center", textStyle: { fontFamily: FONT, fontSize: 22, fontWeight: "normal", color: "#111" } },
    ],
    grid, xAxis, yAxis, series, graphic,
  };
}

export default function App() {
  const ref = useRef<HTMLDivElement>(null);
  useEffect(() => {
    const chart = echarts.init(ref.current!, undefined, { renderer: "svg" });
    chart.setOption(buildOption() as any);
    return () => chart.dispose();
  }, []);
  return <div ref={ref} style={{ position: "absolute", left: 0, top: 0, width: 974, height: 1046 }} />;
}
